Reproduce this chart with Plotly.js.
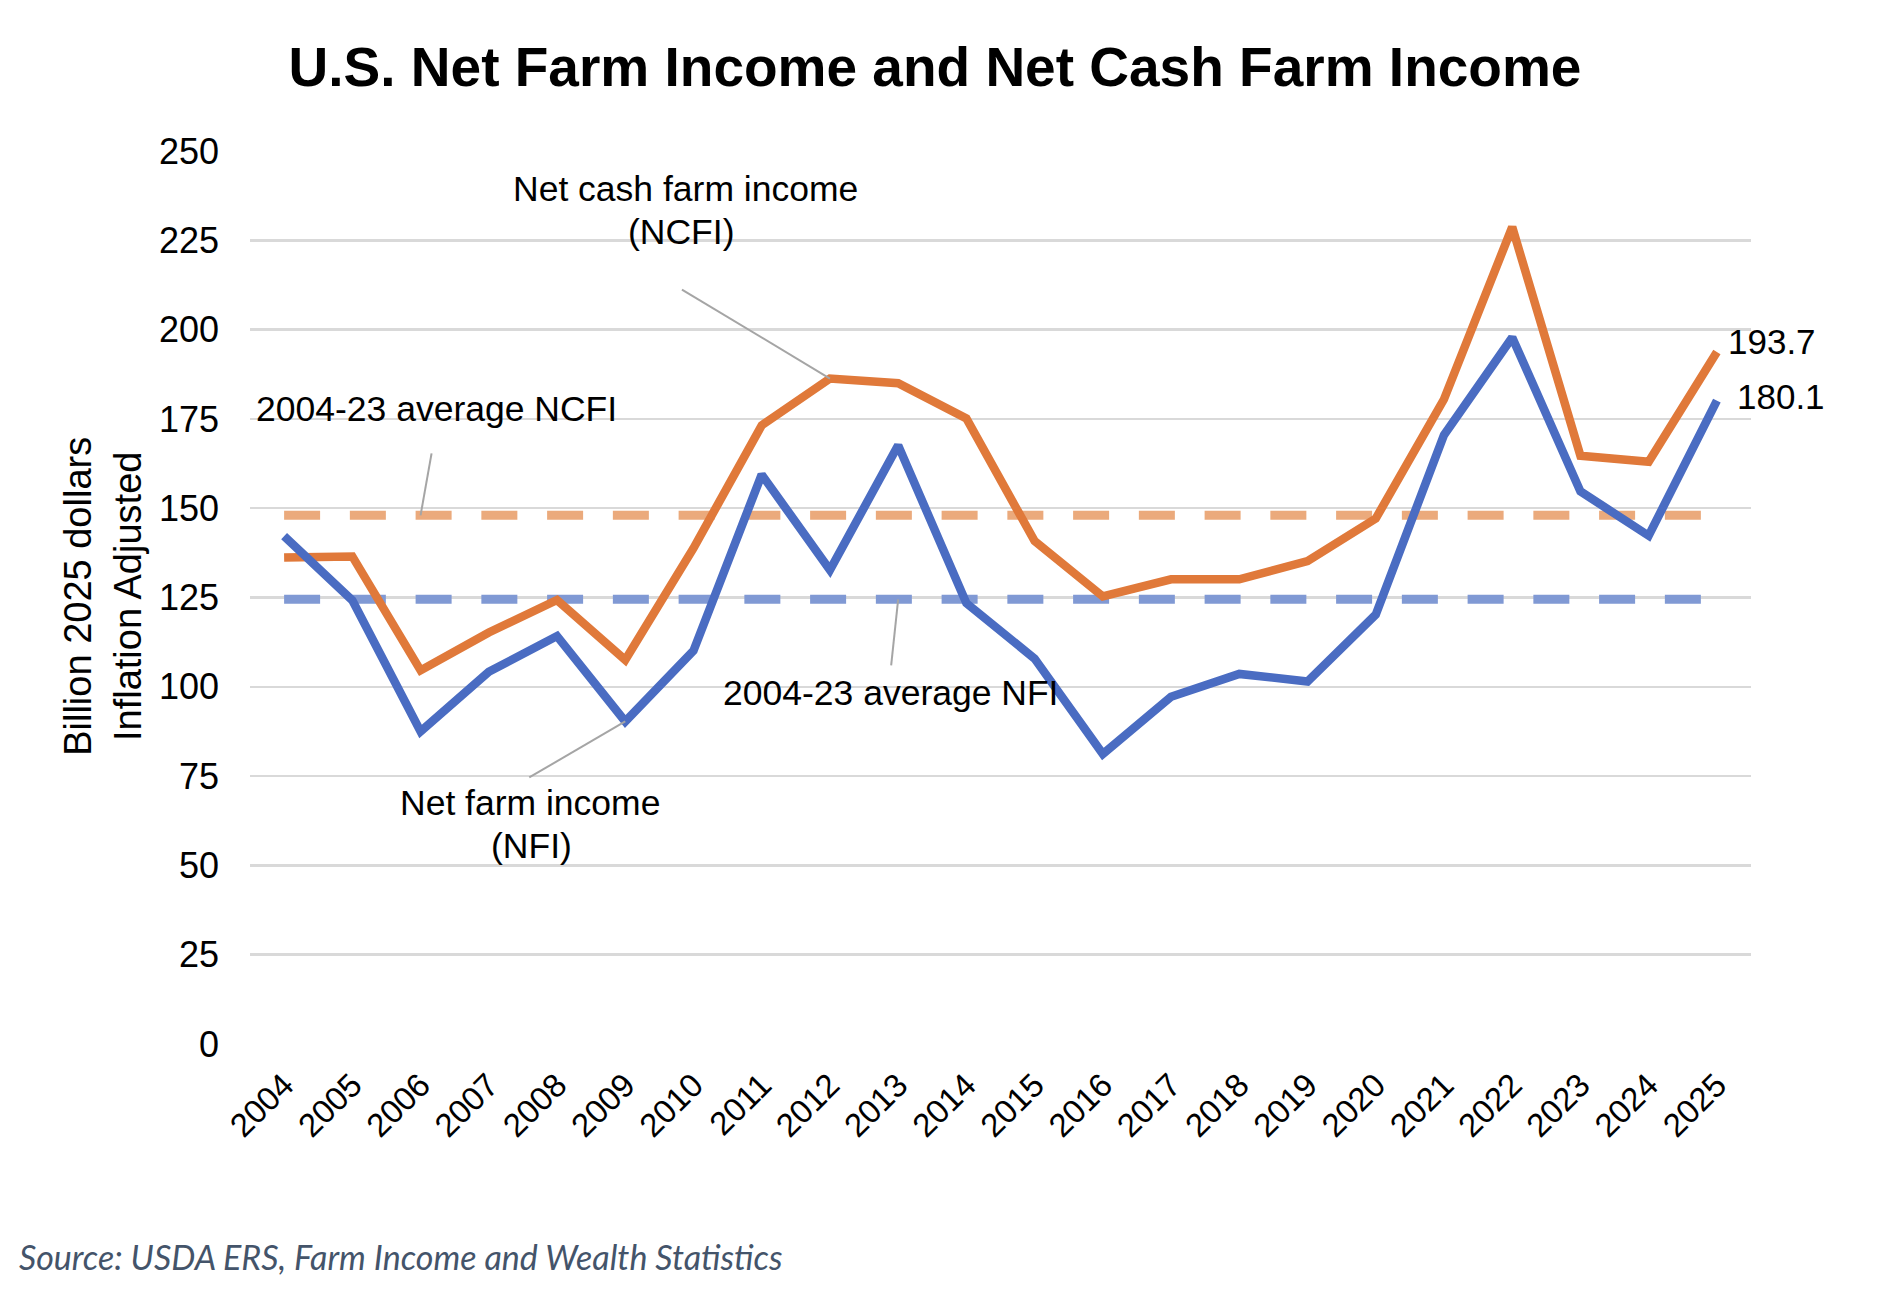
<!DOCTYPE html>
<html>
<head>
<meta charset="utf-8">
<script src="https://cdn.plot.ly/plotly-3.0.1.min.js"></script>
<style>
  html, body { margin: 0; padding: 0; background: #ffffff; }
  #chart { width: 1890px; height: 1314px; }
</style>
</head>
<body>
<div id="chart"></div>
<script>
// ---------- data ----------
const years = ['2004','2005','2006','2007','2008','2009','2010','2011','2012','2013','2014',
               '2015','2016','2017','2018','2019','2020','2021','2022','2023','2024','2025'];
const ncfi = [136.2,136.5,104.6,115.2,124.3,107.5,138.8,173.2,186.3,185.0,175.1,
              140.8,125.3,130.1,130.1,135.2,147.1,180.5,228.7,164.7,163.0,193.7];
const nfi  = [142.2,124.2,87.5,104.2,114.2,90.3,110.1,159.4,132.7,167.6,123.4,
              107.9,81.2,97.2,103.6,101.5,120.2,170.5,197.8,154.7,142.3,180.1];
const avgNcfi = 148.0;   // 2004-23 average NCFI
const avgNfi  = 124.5;   // 2004-23 average NFI
const yTicks = [0,25,50,75,100,125,150,175,200,225,250];

// ---------- layout geometry ----------
const W = 1890, H = 1314;
const M = { l: 249.5, r: 138.5, t: 150.7, b: 270.1 };
const PW = W - M.l - M.r, PH = H - M.t - M.b;
const px = x => (x - M.l) / PW;
const py = y => (H - M.b - y) / PH;

const ORANGE = '#E0793A', BLUE = '#4A6CC2';
const ORANGE_D = '#EBAA7C', BLUE_D = '#8099D4';
const FONT = '"Liberation Sans", Arial, sans-serif';

const traces = [
  { x: years, y: years.map(() => avgNcfi), type: 'scatter', mode: 'lines',
    line: { color: ORANGE_D, width: 9, dash: '36px,29.75px' }, hoverinfo: 'skip', name: 'avg NCFI' },
  { x: years, y: years.map(() => avgNfi), type: 'scatter', mode: 'lines',
    line: { color: BLUE_D, width: 9, dash: '36px,29.75px' }, hoverinfo: 'skip', name: 'avg NFI' },
  { x: years, y: ncfi, type: 'scatter', mode: 'lines',
    line: { color: ORANGE, width: 8.5 }, name: 'Net cash farm income (NCFI)' },
  { x: years, y: nfi, type: 'scatter', mode: 'lines',
    line: { color: BLUE, width: 8.5 }, name: 'Net farm income (NFI)' }
];

const last = years.length - 1;
const iOf = y => years.indexOf(y);

function leader(xc, yv, dx, dy) {
  return { type: 'line', xref: 'x', yref: 'y', xsizemode: 'pixel', ysizemode: 'pixel',
    xanchor: xc, yanchor: yv, x0: 0, y0: 0, x1: dx, y1: dy,
    line: { color: '#A5A5A5', width: 2 }, layer: 'above' };
}

const shapes = [
  leader(iOf('2012'), ncfi[iOf('2012')], -148, 89),
  leader(iOf('2006'), avgNcfi, 11, 62),
  leader(iOf('2013'), avgNfi, -7, -66),
  leader(iOf('2009'), nfi[iOf('2009')], -96, -56)
];

function label(text, cx, cy, size) {
  return { text: text, xref: 'paper', yref: 'paper', x: px(cx), y: py(cy),
    xanchor: 'center', yanchor: 'middle', showarrow: false,
    font: { family: FONT, size: size || 35.5, color: '#000000' } };
}

const annotations = [
  label('Net cash farm income', 685, 189),
  label('(NCFI)', 681, 232),
  label('2004-23 average NCFI', 436, 409),
  label('2004-23 average NFI', 890, 693),
  label('Net farm income', 530, 803),
  label('(NFI)', 531, 846),
  { text: ncfi[last].toFixed(1), x: last, y: ncfi[last], xref: 'x', yref: 'y',
    xanchor: 'left', yanchor: 'middle', xshift: 9, yshift: 11, showarrow: false,
    font: { family: FONT, size: 35, color: '#000000' } },
  { text: nfi[last].toFixed(1), x: last, y: nfi[last], xref: 'x', yref: 'y',
    xanchor: 'left', yanchor: 'middle', xshift: 18, yshift: 4, showarrow: false,
    font: { family: FONT, size: 35, color: '#000000' } },
  { text: 'Billion 2025 dollars<br>Inflation Adjusted', xref: 'paper', yref: 'paper',
    x: px(102), y: py(596), xanchor: 'center', yanchor: 'middle', textangle: -90,
    showarrow: false, font: { family: FONT, size: 38, color: '#000000' } },
  { text: '<i>Source: USDA ERS, Farm Income and Wealth Statistics</i>', xref: 'paper', yref: 'paper',
    x: px(16), y: py(1256), xanchor: 'left', yanchor: 'middle', showarrow: false,
    font: { family: 'Lato, "Open Sans", sans-serif', size: 34, color: '#44546A' } }
];

const layout = {
  width: W, height: H,
  margin: M,
  paper_bgcolor: '#ffffff', plot_bgcolor: '#ffffff',
  showlegend: false,
  title: { text: '<b>U.S. Net Farm Income and Net Cash Farm Income</b>',
    xref: 'container', yref: 'container', x: 935 / W, y: 1 - 67 / H,
    xanchor: 'center', yanchor: 'middle',
    font: { family: FONT, size: 55, color: '#000000' } },
  xaxis: {
    type: 'category', categoryorder: 'array', categoryarray: years,
    range: [-0.5, years.length - 0.5],
    showgrid: false, zeroline: false, showline: false, ticks: '',
    tickangle: -45, ticklabelstandoff: 14,
    tickfont: { family: FONT, size: 33, color: '#000000' }
  },
  yaxis: {
    range: [0, 250], tickvals: yTicks, ticktext: yTicks.map(String),
    showgrid: true, gridcolor: '#D9D9D9', gridwidth: 2.5,
    zeroline: false, showline: false, ticks: '',
    ticklabelstandoff: 30,
    tickfont: { family: FONT, size: 36, color: '#000000' }
  },
  shapes: shapes,
  annotations: annotations
};

Plotly.newPlot('chart', traces, layout, { displayModeBar: false, staticPlot: true });
</script>
</body>
</html>
